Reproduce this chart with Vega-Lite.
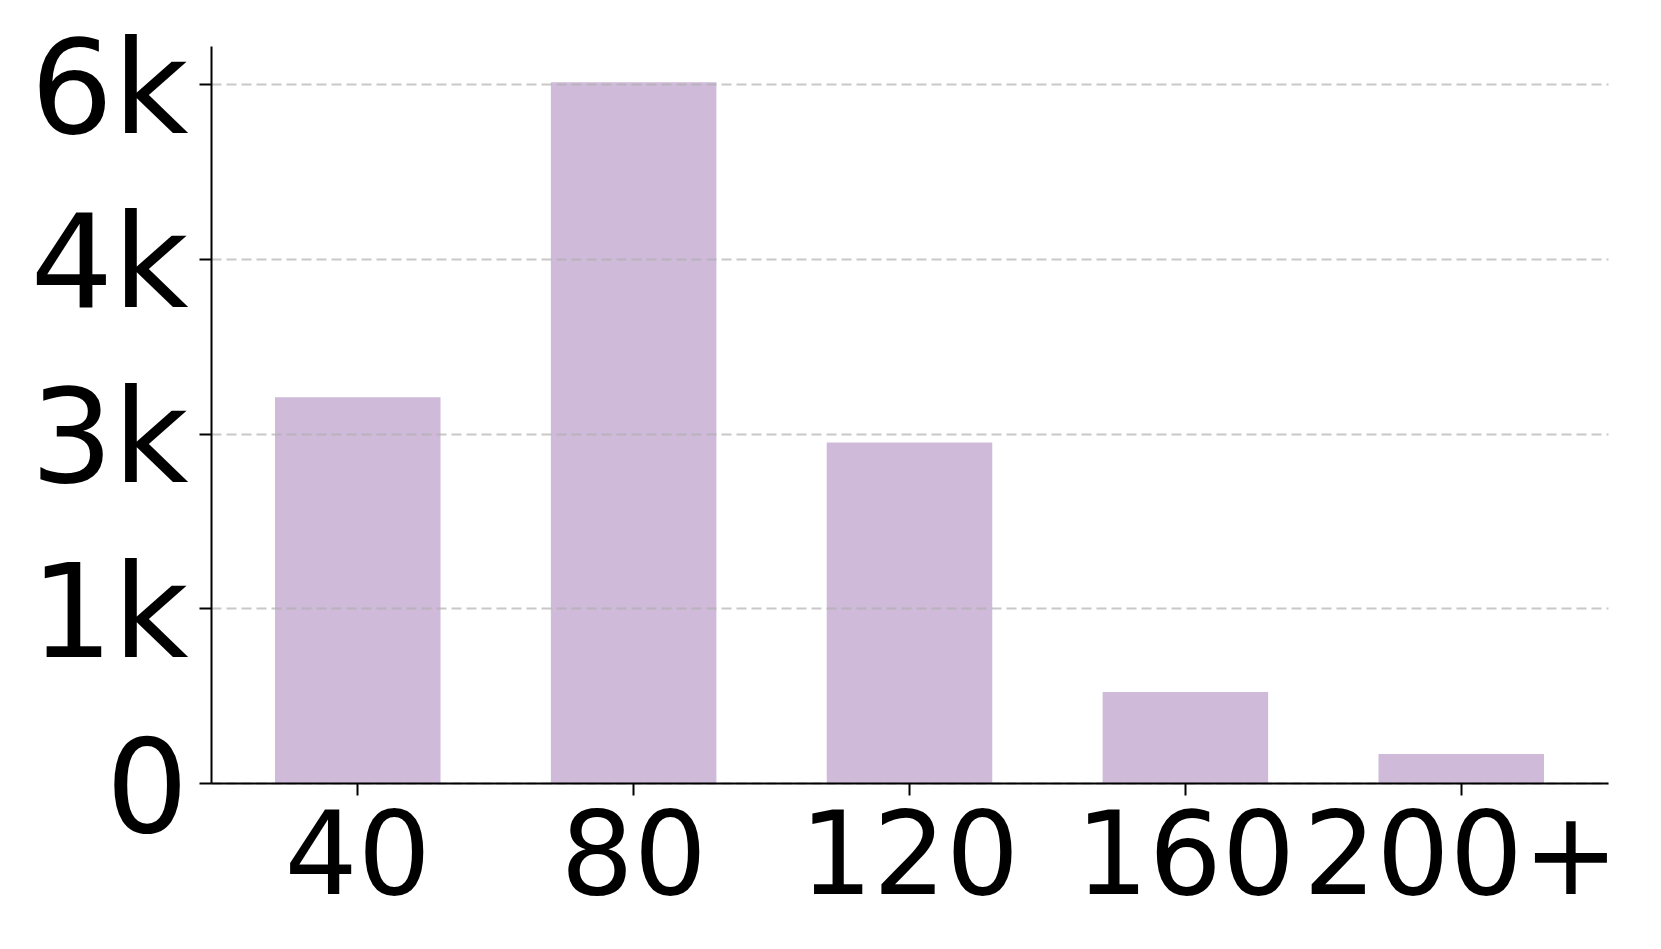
{
  "$schema": "https://vega.github.io/schema/vega-lite/v6.json",
  "width": 1397,
  "height": 737,
  "autosize": {"type": "none"},
  "padding": {"left": 211, "top": 46, "right": 53, "bottom": 166},
  "background": "white",
  "config": {
    "view": {"stroke": null},
    "font": "DejaVu Sans"
  },
  "data": {
    "values": [
      {"bin": "40", "count": 3313},
      {"bin": "80", "count": 6017},
      {"bin": "120", "count": 2924},
      {"bin": "160", "count": 781},
      {"bin": "200+", "count": 249}
    ]
  },
  "mark": {"type": "bar", "color": "#cfbad9", "opacity": 1},
  "encoding": {
    "x": {
      "field": "bin",
      "type": "nominal",
      "sort": null,
      "scale": {"paddingInner": 0.4, "paddingOuter": 0.232},
      "axis": {
        "title": null,
        "labelAngle": 0,
        "labelFont": "DejaVu Sans",
        "labelFontSize": 115,
        "labelColor": "black",
        "labelPadding": 7,
        "labelBaseline": "top",
        "labelLimit": 0,
        "labelOverlap": false,
        "labelBound": false,
        "domainColor": "black",
        "domainWidth": 2,
        "tickColor": "black",
        "tickWidth": 2,
        "tickSize": 12,
        "grid": false,
        "zindex": 1
      }
    },
    "y": {
      "field": "count",
      "type": "quantitative",
      "scale": {"domain": [0, 6329], "nice": false, "zero": true},
      "axis": {
        "title": null,
        "values": [0, 1500, 3000, 4500, 6000],
        "labelExpr": "datum.value == 0 ? '0' : floor(datum.value / 1000) + 'k'",
        "labelFont": "DejaVu Sans",
        "labelFontSize": 130,
        "labelColor": "black",
        "labelPadding": 11,
        "labelBaseline": "middle",
        "labelOffset": 9,
        "labelLimit": 0,
        "labelOverlap": false,
        "labelBound": false,
        "labelFlush": false,
        "domainColor": "black",
        "domainWidth": 2,
        "tickColor": "black",
        "tickWidth": 2,
        "tickSize": 12,
        "grid": true,
        "gridColor": "#b0b0b0",
        "gridOpacity": 0.7,
        "gridWidth": 2,
        "gridDash": [10, 5],
        "zindex": 1
      }
    }
  }
}
